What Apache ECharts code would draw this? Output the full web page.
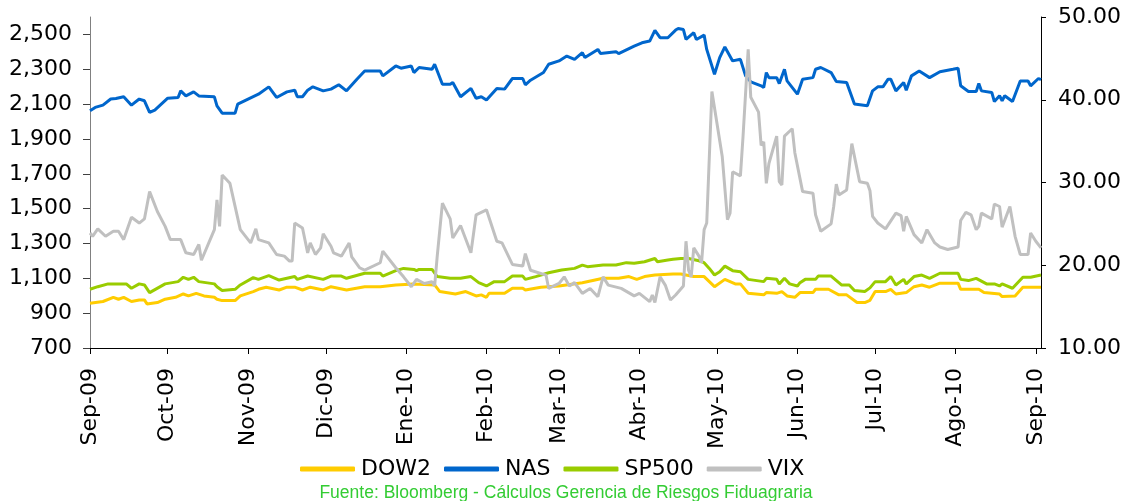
<!DOCTYPE html>
<html>
<head>
<meta charset="utf-8">
<script src="https://cdn.jsdelivr.net/npm/echarts@6/dist/echarts.min.js"></script>
<style>
  html, body { margin: 0; padding: 0; background: #fff; }
  #chart { width: 1126px; height: 501px; }
</style>
</head>
<body>
<div id="chart"></div>
<script>
// etiquetas del eje x (inicio de cada mes)
var monthTicks = ["2009-09-01", "2009-10-01", "2009-11-01", "2009-12-01", "2010-01-01", "2010-02-01", "2010-03-01",
  "2010-04-01", "2010-05-01", "2010-06-01", "2010-07-01", "2010-08-01", "2010-09-01"];
var monthLabels = ["Sep-09", "Oct-09", "Nov-09", "Dic-09", "Ene-10", "Feb-10", "Mar-10",
  "Abr-10", "May-10", "Jun-10", "Jul-10", "Ago-10", "Sep-10"];
var leftTicks = [700, 900, 1100, 1300, 1500, 1700, 1900, 2100, 2300, 2500];
var seriesNames = ["DOW2", "NAS", "SP500", "VIX"];

var dow2 = [
  ["2009-09-01", 957], ["2009-09-06", 967], ["2009-09-10", 991], ["2009-09-12", 980], ["2009-09-14", 991], ["2009-09-17", 967],
  ["2009-09-20", 976], ["2009-09-22", 976], ["2009-09-23", 953], ["2009-09-27", 961], ["2009-09-30", 980],
  ["2009-10-04", 991], ["2009-10-07", 1010], ["2009-10-09", 999], ["2009-10-12", 1014], ["2009-10-15", 999], ["2009-10-19", 991],
  ["2009-10-20", 980], ["2009-10-22", 972], ["2009-10-27", 972], ["2009-10-29", 999],
  ["2009-11-03", 1024], ["2009-11-05", 1037], ["2009-11-08", 1049], ["2009-11-13", 1033], ["2009-11-16", 1049], ["2009-11-19", 1049],
  ["2009-11-22", 1033], ["2009-11-25", 1049], ["2009-11-30", 1033],
  ["2009-12-03", 1052], ["2009-12-09", 1033], ["2009-12-16", 1052], ["2009-12-22", 1052], ["2009-12-28", 1062],
  ["2010-01-04", 1068], ["2010-01-12", 1062], ["2010-01-14", 1024], ["2010-01-20", 1010], ["2010-01-24", 1024], ["2010-01-28", 999],
  ["2010-01-30", 1005], ["2010-02-01", 991], ["2010-02-02", 1014], ["2010-02-08", 1014], ["2010-02-11", 1043], ["2010-02-15", 1043],
  ["2010-02-16", 1033], ["2010-02-22", 1049], ["2010-03-01", 1056], ["2010-03-10", 1075], ["2010-03-18", 1100], ["2010-03-24", 1100],
  ["2010-03-28", 1110], ["2010-03-31", 1094], ["2010-04-03", 1110], ["2010-04-07", 1119], ["2010-04-14", 1125], ["2010-04-17", 1125],
  ["2010-04-22", 1110], ["2010-04-26", 1110], ["2010-04-30", 1052], ["2010-05-04", 1094], ["2010-05-08", 1068], ["2010-05-10", 1068],
  ["2010-05-13", 1014], ["2010-05-19", 1005], ["2010-05-20", 1018], ["2010-05-24", 1014], ["2010-05-26", 1024], ["2010-05-28", 999],
  ["2010-05-31", 991], ["2010-06-02", 1018], ["2010-06-07", 1018], ["2010-06-08", 1037], ["2010-06-13", 1037], ["2010-06-17", 1005],
  ["2010-06-20", 1005], ["2010-06-24", 961], ["2010-06-27", 961], ["2010-06-29", 974], ["2010-07-01", 1024], ["2010-07-05", 1024],
  ["2010-07-07", 1037], ["2010-07-09", 1010], ["2010-07-13", 1018], ["2010-07-16", 1052], ["2010-07-19", 1062], ["2010-07-22", 1049],
  ["2010-07-26", 1072], ["2010-08-02", 1072], ["2010-08-03", 1037], ["2010-08-10", 1037], ["2010-08-12", 1018], ["2010-08-18", 1010],
  ["2010-08-19", 995], ["2010-08-24", 999], ["2010-08-27", 1049], ["2010-09-03", 1049]
];

var nas = [
  ["2009-09-01", 2062], ["2009-09-03", 2081], ["2009-09-06", 2094], ["2009-09-09", 2129], ["2009-09-11", 2132], ["2009-09-14", 2142],
  ["2009-09-17", 2094], ["2009-09-20", 2129], ["2009-09-22", 2119], ["2009-09-24", 2052], ["2009-09-26", 2066], ["2009-10-01", 2134],
  ["2009-10-05", 2138], ["2009-10-06", 2176], ["2009-10-08", 2147], ["2009-10-11", 2170], ["2009-10-13", 2147], ["2009-10-19", 2142],
  ["2009-10-20", 2090], ["2009-10-22", 2048], ["2009-10-27", 2048], ["2009-10-28", 2100], ["2009-11-01", 2129], ["2009-11-05", 2157],
  ["2009-11-09", 2199], ["2009-11-12", 2138], ["2009-11-16", 2170], ["2009-11-19", 2180], ["2009-11-20", 2142], ["2009-11-22", 2142],
  ["2009-11-24", 2180], ["2009-11-26", 2199], ["2009-11-30", 2176], ["2009-12-03", 2186], ["2009-12-06", 2211], ["2009-12-09", 2176],
  ["2009-12-13", 2243], ["2009-12-16", 2290], ["2009-12-22", 2290], ["2009-12-23", 2262], ["2009-12-28", 2319], ["2009-12-30", 2306],
  ["2010-01-03", 2319], ["2010-01-04", 2281], ["2010-01-06", 2310], ["2010-01-11", 2300], ["2010-01-12", 2329], ["2010-01-15", 2214],
  ["2010-01-18", 2214], ["2010-01-19", 2224], ["2010-01-22", 2142], ["2010-01-26", 2190], ["2010-01-28", 2134], ["2010-01-30", 2142],
  ["2010-02-01", 2123], ["2010-02-05", 2190], ["2010-02-08", 2186], ["2010-02-11", 2247], ["2010-02-15", 2247], ["2010-02-16", 2211],
  ["2010-02-18", 2237], ["2010-02-23", 2281], ["2010-02-25", 2329], ["2010-03-01", 2348], ["2010-03-04", 2376], ["2010-03-07", 2357],
  ["2010-03-10", 2395], ["2010-03-11", 2367], ["2010-03-16", 2414], ["2010-03-17", 2390], ["2010-03-23", 2401], ["2010-03-24", 2390],
  ["2010-03-30", 2433], ["2010-04-02", 2452], ["2010-04-05", 2462], ["2010-04-07", 2523], ["2010-04-09", 2481], ["2010-04-12", 2481],
  ["2010-04-15", 2525], ["2010-04-16", 2534], ["2010-04-18", 2528], ["2010-04-19", 2471], ["2010-04-22", 2510], ["2010-04-23", 2471],
  ["2010-04-26", 2496], ["2010-04-27", 2414], ["2010-04-30", 2271], ["2010-05-02", 2367], ["2010-05-04", 2428], ["2010-05-07", 2348],
  ["2010-05-10", 2357], ["2010-05-12", 2262], ["2010-05-14", 2228], ["2010-05-18", 2205], ["2010-05-19", 2195], ["2010-05-20", 2281],
  ["2010-05-21", 2252], ["2010-05-24", 2252], ["2010-05-25", 2218], ["2010-05-27", 2300], ["2010-05-28", 2233], ["2010-06-01", 2157],
  ["2010-06-03", 2243], ["2010-06-07", 2252], ["2010-06-08", 2300], ["2010-06-10", 2310], ["2010-06-14", 2281], ["2010-06-16", 2230],
  ["2010-06-20", 2224], ["2010-06-23", 2100], ["2010-06-28", 2090], ["2010-06-30", 2176], ["2010-07-02", 2199], ["2010-07-04", 2199],
  ["2010-07-06", 2243], ["2010-07-07", 2243], ["2010-07-09", 2176], ["2010-07-12", 2224], ["2010-07-13", 2180], ["2010-07-15", 2262],
  ["2010-07-18", 2290], ["2010-07-22", 2252], ["2010-07-26", 2286], ["2010-07-31", 2300], ["2010-08-02", 2306], ["2010-08-03", 2205],
  ["2010-08-06", 2172], ["2010-08-09", 2172], ["2010-08-10", 2218], ["2010-08-11", 2176], ["2010-08-15", 2167], ["2010-08-16", 2115],
  ["2010-08-18", 2148], ["2010-08-19", 2119], ["2010-08-20", 2148], ["2010-08-23", 2115], ["2010-08-26", 2233], ["2010-08-29", 2233],
  ["2010-08-30", 2205], ["2010-09-02", 2247], ["2010-09-03", 2240]
];

var sp500 = [
  ["2009-09-01", 1037], ["2009-09-04", 1052], ["2009-09-08", 1068], ["2009-09-15", 1068], ["2009-09-17", 1043], ["2009-09-20", 1068],
  ["2009-09-22", 1062], ["2009-09-24", 1018], ["2009-09-30", 1068], ["2009-10-05", 1081], ["2009-10-07", 1106], ["2009-10-09", 1094],
  ["2009-10-11", 1106], ["2009-10-13", 1081], ["2009-10-19", 1068], ["2009-10-20", 1052], ["2009-10-22", 1030], ["2009-10-27", 1037],
  ["2009-10-29", 1062], ["2009-11-03", 1104], ["2009-11-05", 1094], ["2009-11-09", 1115], ["2009-11-13", 1090], ["2009-11-16", 1100],
  ["2009-11-19", 1110], ["2009-11-20", 1094], ["2009-11-24", 1113], ["2009-11-30", 1094], ["2009-12-03", 1113], ["2009-12-07", 1113],
  ["2009-12-09", 1100], ["2009-12-16", 1129], ["2009-12-22", 1129], ["2009-12-23", 1113], ["2009-12-28", 1144], ["2009-12-31", 1157],
  ["2010-01-04", 1151], ["2010-01-05", 1144], ["2010-01-06", 1151], ["2010-01-11", 1151], ["2010-01-13", 1110], ["2010-01-18", 1100],
  ["2010-01-22", 1100], ["2010-01-26", 1110], ["2010-01-29", 1075], ["2010-02-01", 1056], ["2010-02-04", 1081], ["2010-02-08", 1081],
  ["2010-02-11", 1113], ["2010-02-15", 1113], ["2010-02-16", 1094], ["2010-02-20", 1110], ["2010-02-25", 1132], ["2010-03-02", 1148],
  ["2010-03-07", 1157], ["2010-03-10", 1176], ["2010-03-12", 1167], ["2010-03-18", 1176], ["2010-03-23", 1176], ["2010-03-27", 1190],
  ["2010-03-30", 1186], ["2010-04-03", 1195], ["2010-04-07", 1214], ["2010-04-08", 1195], ["2010-04-12", 1205], ["2010-04-14", 1209],
  ["2010-04-17", 1214], ["2010-04-20", 1214], ["2010-04-24", 1201], ["2010-04-26", 1190], ["2010-04-28", 1157], ["2010-04-30", 1119],
  ["2010-05-02", 1138], ["2010-05-04", 1170], ["2010-05-07", 1144], ["2010-05-10", 1138], ["2010-05-13", 1094], ["2010-05-19", 1081],
  ["2010-05-20", 1100], ["2010-05-24", 1094], ["2010-05-25", 1068], ["2010-05-27", 1100], ["2010-05-29", 1068], ["2010-06-01", 1056],
  ["2010-06-02", 1075], ["2010-06-04", 1094], ["2010-06-08", 1094], ["2010-06-09", 1113], ["2010-06-14", 1113], ["2010-06-18", 1062],
  ["2010-06-21", 1062], ["2010-06-23", 1030], ["2010-06-27", 1024], ["2010-06-29", 1045], ["2010-07-01", 1081], ["2010-07-05", 1081],
  ["2010-07-07", 1110], ["2010-07-09", 1062], ["2010-07-12", 1094], ["2010-07-13", 1068], ["2010-07-16", 1110], ["2010-07-19", 1119],
  ["2010-07-22", 1100], ["2010-07-26", 1129], ["2010-08-02", 1129], ["2010-08-03", 1094], ["2010-08-06", 1087], ["2010-08-09", 1100],
  ["2010-08-13", 1068], ["2010-08-16", 1068], ["2010-08-18", 1056], ["2010-08-19", 1068], ["2010-08-23", 1043], ["2010-08-27", 1106],
  ["2010-08-30", 1106], ["2010-09-03", 1119]
];

var vix = [
  ["2009-09-01", 23.9], ["2009-09-02", 23.5], ["2009-09-04", 24.4], ["2009-09-07", 23.5], ["2009-09-10", 24.1], ["2009-09-12", 24.1],
  ["2009-09-14", 23.1], ["2009-09-17", 25.8], ["2009-09-20", 25.1], ["2009-09-22", 25.6], ["2009-09-24", 28.9], ["2009-09-27", 26.5],
  ["2009-09-30", 24.7], ["2009-10-02", 23.1], ["2009-10-06", 23.1], ["2009-10-08", 21.5], ["2009-10-11", 21.3], ["2009-10-13", 22.5],
  ["2009-10-14", 20.6], ["2009-10-19", 24.3], ["2009-10-20", 27.9], ["2009-10-21", 24.7], ["2009-10-22", 30.9], ["2009-10-25", 29.9],
  ["2009-10-29", 24.3], ["2009-11-02", 22.7], ["2009-11-04", 24.4], ["2009-11-05", 23.1], ["2009-11-09", 22.7], ["2009-11-12", 21.3],
  ["2009-11-15", 21.1], ["2009-11-17", 20.5], ["2009-11-18", 20.5], ["2009-11-19", 25.1], ["2009-11-22", 24.5], ["2009-11-24", 21.5],
  ["2009-11-25", 22.7], ["2009-11-27", 21.3], ["2009-11-29", 22.1], ["2009-11-30", 23.8], ["2009-12-03", 22.3], ["2009-12-04", 21.5],
  ["2009-12-07", 21.1], ["2009-12-10", 22.7], ["2009-12-11", 21.0], ["2009-12-14", 19.7], ["2009-12-16", 19.4], ["2009-12-22", 20.3],
  ["2009-12-23", 21.7], ["2009-12-28", 19.7], ["2009-12-31", 18.6], ["2010-01-03", 17.4], ["2010-01-05", 18.3], ["2010-01-08", 17.8],
  ["2010-01-11", 18.0], ["2010-01-12", 17.5], ["2010-01-13", 21.1], ["2010-01-15", 27.5], ["2010-01-18", 25.6], ["2010-01-19", 23.3],
  ["2010-01-22", 24.8], ["2010-01-26", 21.5], ["2010-01-28", 26.1], ["2010-01-30", 26.4], ["2010-02-01", 26.7], ["2010-02-05", 22.9],
  ["2010-02-07", 22.7], ["2010-02-11", 20.1], ["2010-02-15", 19.9], ["2010-02-16", 21.4], ["2010-02-18", 19.4], ["2010-02-24", 18.8],
  ["2010-02-25", 17.2], ["2010-03-01", 17.8], ["2010-03-03", 18.6], ["2010-03-05", 17.5], ["2010-03-07", 17.9], ["2010-03-10", 16.6],
  ["2010-03-13", 17.2], ["2010-03-16", 16.2], ["2010-03-18", 18.6], ["2010-03-20", 17.6], ["2010-03-25", 17.2], ["2010-03-30", 16.3],
  ["2010-04-01", 16.6], ["2010-04-05", 15.6], ["2010-04-06", 16.4], ["2010-04-07", 15.5], ["2010-04-09", 18.6], ["2010-04-11", 17.6],
  ["2010-04-13", 15.8], ["2010-04-15", 16.4], ["2010-04-18", 17.5], ["2010-04-19", 22.9], ["2010-04-20", 19.4], ["2010-04-21", 18.6],
  ["2010-04-22", 22.1], ["2010-04-24", 21.1], ["2010-04-25", 20.3], ["2010-04-26", 24.3], ["2010-04-27", 25.1], ["2010-04-29", 41.0],
  ["2010-05-03", 33.1], ["2010-05-05", 25.5], ["2010-05-06", 26.3], ["2010-05-07", 31.3], ["2010-05-10", 30.8], ["2010-05-11", 35.5],
  ["2010-05-13", 46.1], ["2010-05-14", 40.3], ["2010-05-17", 38.5], ["2010-05-18", 34.5], ["2010-05-19", 34.9], ["2010-05-20", 29.9],
  ["2010-05-21", 32.3], ["2010-05-24", 35.6], ["2010-05-25", 30.1], ["2010-05-26", 29.7], ["2010-05-27", 35.6], ["2010-05-30", 36.5],
  ["2010-05-31", 33.6], ["2010-06-03", 28.9], ["2010-06-07", 28.7], ["2010-06-08", 26.1], ["2010-06-10", 24.1], ["2010-06-14", 25.0],
  ["2010-06-15", 27.1], ["2010-06-16", 29.8], ["2010-06-17", 28.5], ["2010-06-20", 29.1], ["2010-06-22", 34.7], ["2010-06-25", 30.1],
  ["2010-06-28", 29.9], ["2010-06-29", 29.0], ["2010-06-30", 25.9], ["2010-07-02", 25.1], ["2010-07-05", 24.4], ["2010-07-09", 26.3],
  ["2010-07-11", 26.0], ["2010-07-12", 24.1], ["2010-07-13", 25.9], ["2010-07-16", 23.7], ["2010-07-19", 22.7], ["2010-07-21", 24.3],
  ["2010-07-24", 22.7], ["2010-07-26", 22.2], ["2010-07-29", 21.9], ["2010-08-02", 22.2], ["2010-08-03", 25.4], ["2010-08-05", 26.4],
  ["2010-08-07", 26.1], ["2010-08-09", 24.3], ["2010-08-10", 24.7], ["2010-08-11", 26.3], ["2010-08-15", 25.6], ["2010-08-16", 27.4],
  ["2010-08-18", 27.1], ["2010-08-19", 24.6], ["2010-08-22", 27.1], ["2010-08-24", 23.5], ["2010-08-26", 21.3], ["2010-08-29", 21.3],
  ["2010-08-30", 23.9], ["2010-09-01", 22.9], ["2010-09-03", 22.1]
];

var colors = ["#ffcc00", "#0066cc", "#99cc00", "#c0c0c0"];
var FONT = "DejaVu Sans";
var DAY = 24 * 3600 * 1000;

function toTime(s) {
  var p = s.split("-");
  return new Date(+p[0], +p[1] - 1, +p[2]).getTime();
}
var tickTimes = monthTicks.map(toTime);

var myChart = echarts.init(document.getElementById("chart"));

function lineSeries(i, data, axisIndex) {
  return {
    name: seriesNames[i],
    type: "line",
    yAxisIndex: axisIndex,
    data: data,
    symbol: "none",
    showSymbol: false,
    lineStyle: { color: colors[i], width: 3 },
    itemStyle: { color: colors[i] },
    z: 2 + i
  };
}

var option = {
  backgroundColor: "#ffffff",
  animation: false,
  grid: { left: 90, right: 85, top: 17, bottom: 153 },
  xAxis: {
    type: "time",
    min: toTime("2009-09-01"),
    max: toTime("2010-09-03"),
    minInterval: 28 * DAY,
    maxInterval: 31 * DAY,
    axisLine: { lineStyle: { color: "#000", width: 1 } },
    axisTick: { show: true, length: 6, lineStyle: { color: "#000" } },
    splitLine: { show: false },
    axisLabel: {
      rotate: 90,
      margin: 20,
      color: "#000",
      fontFamily: FONT,
      fontSize: 22,
      hideOverlap: false,
      showMinLabel: true,
      showMaxLabel: false,
      formatter: function (v) {
        var d = new Date(v);
        for (var i = 0; i < tickTimes.length; i++) {
          var t = new Date(tickTimes[i]);
          if (t.getFullYear() === d.getFullYear() && t.getMonth() === d.getMonth() && d.getDate() === 1) {
            return monthLabels[i];
          }
        }
        return "";
      }
    }
  },
  yAxis: [
    {
      type: "value",
      min: 700,
      max: 2600,
      position: "left",
      axisLine: { show: true, lineStyle: { color: "#808080" } },
      axisTick: { show: true, length: 7, lineStyle: { color: "#404040" }, customValues: leftTicks },
      splitLine: { show: false },
      axisLabel: {
        customValues: leftTicks,
        margin: 18,
        color: "#000",
        fontFamily: FONT,
        fontSize: 22,
        formatter: function (v) { return v.toLocaleString("en-US"); }
      }
    },
    {
      type: "value",
      min: 10,
      max: 50,
      interval: 10,
      position: "right",
      axisLine: { show: true, lineStyle: { color: "#000" } },
      axisTick: { show: true, length: 5, lineStyle: { color: "#000" } },
      splitLine: { show: false },
      axisLabel: {
        margin: 17,
        color: "#000",
        fontFamily: FONT,
        fontSize: 22,
        formatter: function (v) { return v.toFixed(2); }
      }
    }
  ],
  legend: {
    data: seriesNames,
    left: 295,
    top: 453,
    icon: "roundRect",
    itemWidth: 55,
    itemHeight: 5,
    itemGap: 13,
    textStyle: { color: "#000", fontFamily: FONT, fontSize: 22, padding: [0, 0, 0, 1] }
  },
  graphic: [
    {
      type: "text",
      x: 566,
      y: 493,
      style: {
        text: "Fuente: Bloomberg - Cálculos Gerencia de Riesgos Fiduagraria",
        fill: "#33cc33",
        align: "center",
        verticalAlign: "middle",
        font: "17.5px 'Liberation Sans', Arial, sans-serif"
      }
    }
  ],
  series: [
    lineSeries(0, dow2, 0),
    lineSeries(1, nas, 0),
    lineSeries(2, sp500, 0),
    lineSeries(3, vix, 1)
  ]
};

myChart.setOption(option);
</script>
</body>
</html>
